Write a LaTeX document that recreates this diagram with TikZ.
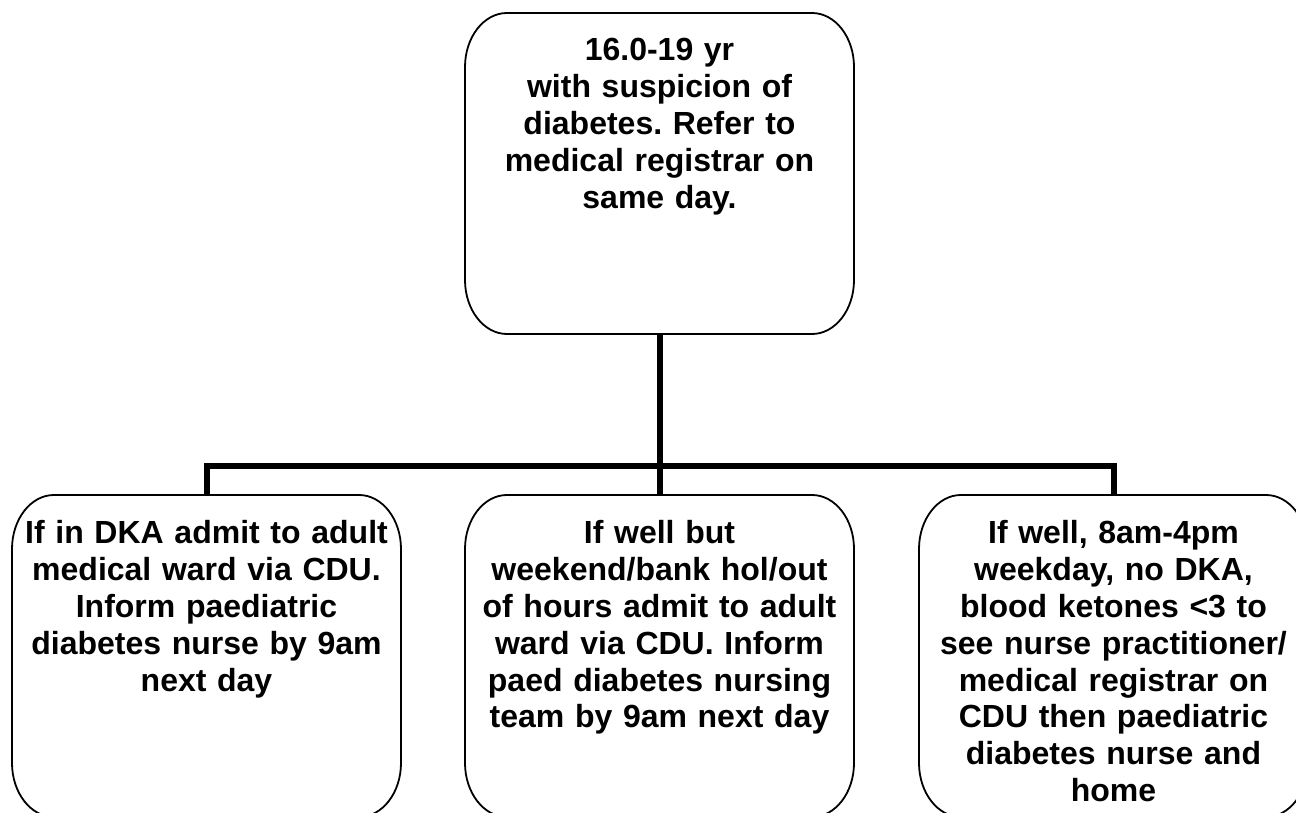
\documentclass[tikz,border=0pt]{standalone}
\usepackage{fontspec}
\setmainfont{Liberation Sans}
\usetikzlibrary{calc}
\frenchspacing
\newcommand{\myebox}[1]{%
  \draw[boxline] ([xshift=42pt]#1.north west) -- ([xshift=-42pt]#1.north east)
    arc[start angle=90,end angle=0,x radius=42pt,y radius=54pt]
    -- ([yshift=54pt]#1.south east)
    arc[start angle=0,end angle=-90,x radius=42pt,y radius=54pt]
    -- ([xshift=42pt]#1.south west)
    arc[start angle=270,end angle=180,x radius=42pt,y radius=54pt]
    -- ([yshift=-54pt]#1.north west)
    arc[start angle=180,end angle=90,x radius=42pt,y radius=54pt]
    -- cycle;}
\tikzset{
  x=1pt, y=1pt,
  boxarea/.style={rectangle, draw=none, inner sep=0pt, outer sep=0pt,
    minimum width=389pt},
  boxline/.style={draw=black, line width=1.8pt},
  conn/.style={draw=black, line width=6pt, line join=miter},
  txt/.style={inner sep=0pt, outer sep=0pt, anchor=north, text width=386pt,
    align=center, font=\fontsize{32}{36.8}\selectfont\bfseries},
}
\begin{document}
\begin{tikzpicture}
\useasboundingbox (0,0) rectangle (1296,812);
% boxes (areas)
\node[boxarea, minimum height=321pt] (top) at (659.5,638.5) {};
\node[boxarea, minimum height=322pt] (left) at (206.5,156) {};
\node[boxarea, minimum height=322pt] (mid) at (659.5,156) {};
\node[boxarea, minimum height=322pt] (right) at (1113.5,156) {};
\coordinate (barc) at (659.5,346);
% connectors
\draw[conn] (top.south) -- (barc);
\draw[conn] (left.north) -- (left.north |- barc) -| (right.north);
\draw[conn] (barc) -- (mid.north);
% outlines
\myebox{top}
\myebox{left}
\myebox{mid}
\myebox{right}
% texts
\node[txt] (toptxt) at ([yshift=-20pt]top.north) {\rule{0pt}{28pt}16.0-19 yr\\with suspicion of\\diabetes. Refer to\\medical registrar on\\same day.};
\node[txt] (lefttxt) at ([yshift=-21pt]left.north) {\rule{0pt}{28pt}If in DKA admit to adult\\medical ward via CDU.\\Inform paediatric\\diabetes nurse by 9am\\next day};
\node[txt] (midtxt) at ([yshift=-21pt]mid.north) {\rule{0pt}{28pt}If well but\\weekend/bank hol/out\\of hours admit to adult\\ward via CDU. Inform\\paed diabetes nursing\\team by 9am next day};
\node[txt] (righttxt) at ([yshift=-21pt]right.north) {\rule{0pt}{28pt}If well, 8am-4pm\\weekday, no DKA,\\blood ketones <3 to\\see nurse practitioner/\\medical registrar on\\CDU then paediatric\\diabetes nurse and\\home};
\end{tikzpicture}
\end{document}
